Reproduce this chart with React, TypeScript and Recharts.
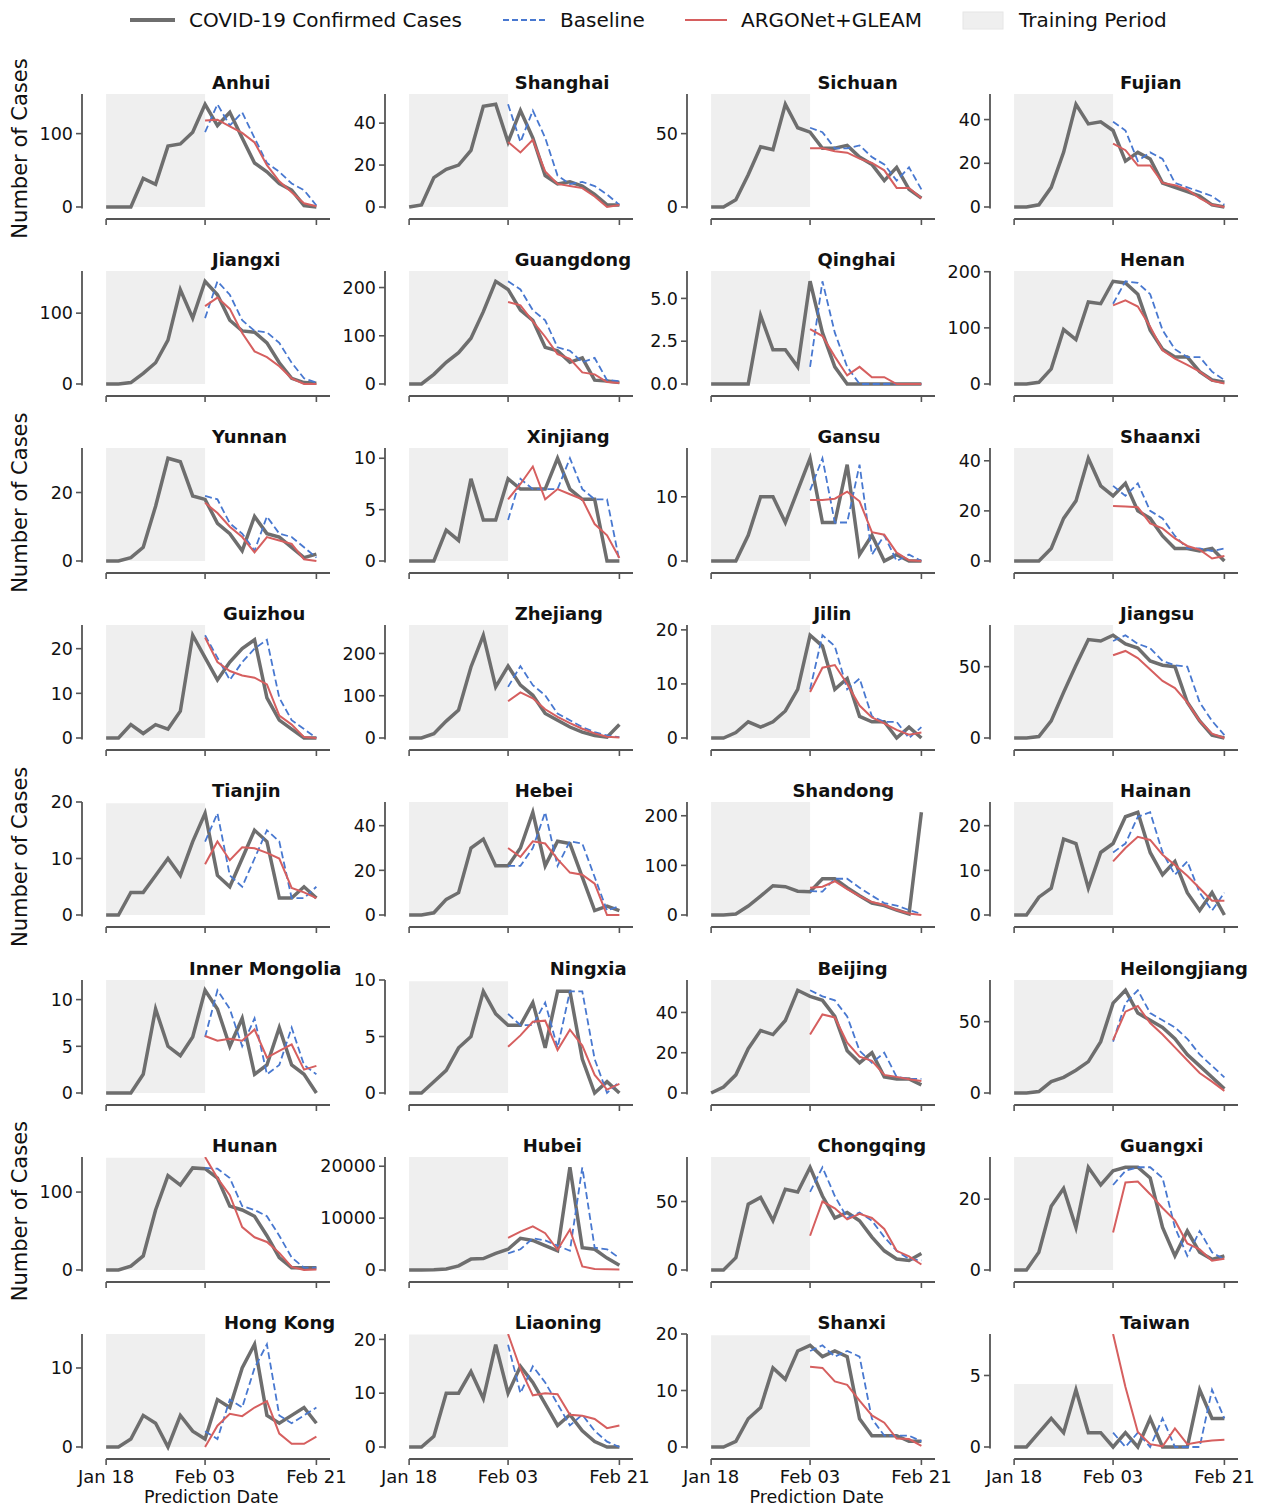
import React from 'react';
import { ComposedChart, Line, XAxis, YAxis, ReferenceArea, ReferenceLine } from 'recharts';

const FONT = '"DejaVu Sans", Verdana, sans-serif';

// x values: days since Jan 18 (observations every 2 days)
const DAYS = [0, 2, 4, 6, 8, 10, 12, 14, 16, 18, 20, 22, 24, 26, 28, 30, 32, 34];
const TICK_DAYS = [0, 16, 34];
const TICK_LABELS = ['Jan 18', 'Feb 03', 'Feb 21'];
const TRAIN_START = 0;
const TRAIN_END = 16;
const PRED_START_INDEX = 8;

const ANHUI_CASES = [0, 0, 0, 39, 31, 83, 86, 102, 140, 111, 129, 94, 60, 48, 32, 23, 2, 0];
const ANHUI_BASE = [102, 140, 111, 129, 94, 60, 48, 32, 23, 2];
const ANHUI_ARGO = [118, 119, 110, 101, 88, 57, 35, 20, 5, 1];

const SHANGHAI_CASES = [0, 1, 14, 18, 20, 27, 48, 49, 31, 46, 33, 15, 11, 12, 10, 6, 1, 1];
const SHANGHAI_BASE = [49, 31, 46, 33, 15, 11, 12, 10, 6, 1];
const SHANGHAI_ARGO = [31, 26, 32, 17, 11, 10, 9, 5, 0, 1];

const SICHUAN_CASES = [0, 0, 5, 22, 41, 39, 70, 54, 51, 40, 40, 42, 34, 29, 18, 27, 12, 6];
const SICHUAN_BASE = [54, 51, 40, 40, 42, 34, 29, 18, 27, 12];
const SICHUAN_ARGO = [40, 40, 38, 37, 33, 30, 25, 13, 13, 6];

const FUJIAN_CASES = [0, 0, 1, 9, 25, 47, 38, 39, 35, 21, 25, 22, 11, 9, 7, 5, 1, 0];
const FUJIAN_BASE = [39, 35, 21, 25, 22, 11, 9, 7, 5, 1];
const FUJIAN_ARGO = [29, 26, 19, 19, 11, 10, 8, 4, 1, 0];

const JIANGXI_CASES = [0, 0, 2, 15, 30, 62, 133, 93, 145, 126, 90, 75, 73, 58, 30, 8, 2, 1];
const JIANGXI_BASE = [93, 145, 126, 90, 75, 73, 58, 30, 8, 2];
const JIANGXI_ARGO = [110, 122, 106, 72, 46, 38, 25, 8, 0, 0];

const GUANGDONG_CASES = [0, 0, 20, 45, 65, 95, 150, 213, 196, 153, 132, 76, 69, 45, 54, 8, 6, 3];
const GUANGDONG_BASE = [213, 196, 153, 132, 76, 69, 45, 54, 8, 6];
const GUANGDONG_ARGO = [170, 163, 130, 98, 62, 52, 24, 20, 4, 2];

const QINGHAI_CASES = [0, 0, 0, 0, 4, 2, 2, 1, 6, 3, 1, 0, 0, 0, 0, 0, 0, 0];
const QINGHAI_BASE = [1, 6, 3, 1, 0, 0, 0, 0, 0, 0];
const QINGHAI_ARGO = [3.2, 2.8, 1.6, 0.5, 1.0, 0.4, 0.4, 0, 0, 0];

const HENAN_CASES = [0, 0, 3, 27, 97, 79, 146, 143, 183, 180, 160, 96, 62, 48, 48, 22, 7, 3];
const HENAN_BASE = [143, 183, 180, 160, 96, 62, 48, 48, 22, 7];
const HENAN_ARGO = [140, 149, 138, 102, 60, 45, 34, 22, 6, 1];

const YUNNAN_CASES = [0, 0, 1, 4, 16, 30, 29, 19, 18, 11, 8, 3, 13, 8, 7, 4, 1, 2];
const YUNNAN_BASE = [19, 18, 11, 8, 3, 13, 8, 7, 4, 1];
const YUNNAN_ARGO = [17, 14, 10, 7, 2.5, 7, 6, 5, 0.5, 0];

const XINJIANG_CASES = [0, 0, 0, 3, 2, 8, 4, 4, 8, 7, 7, 7, 10, 7, 6, 6, 0, 0];
const XINJIANG_BASE = [4, 8, 7, 7, 7, 10, 7, 6, 6, 0];
const XINJIANG_ARGO = [6, 7.5, 9.2, 6, 7, 6.5, 6, 3.6, 2.5, 0.3];

const GANSU_CASES = [0, 0, 0, 4, 10, 10, 6, 11, 16, 6, 6, 15, 1, 4, 0, 1, 0, 0];
const GANSU_BASE = [11, 16, 6, 6, 15, 1, 4, 0, 1, 0];
const GANSU_ARGO = [9.5, 9.5, 9.7, 10.8, 9.3, 4.5, 4.1, 1.3, 0.1, 0];

const SHAANXI_CASES = [0, 0, 0, 5, 17, 24, 41, 30, 26, 31, 20, 17, 10, 5, 5, 4, 5, 0];
const SHAANXI_BASE = [30, 26, 31, 20, 17, 10, 5, 5, 4, 5];
const SHAANXI_ARGO = [22, 21.8, 21.5, 15, 13, 9, 6, 4.5, 1, 2];

const GUIZHOU_CASES = [0, 0, 3, 1, 3, 2, 6, 23, 18, 13, 17, 20, 22, 9, 4, 2, 0, 0];
const GUIZHOU_BASE = [23, 18, 13, 17, 20, 22, 9, 4, 2, 0];
const GUIZHOU_ARGO = [22.5, 17, 15, 14, 13.5, 12, 5, 3, 0.2, 0];

const ZHEJIANG_CASES = [0, 0, 10, 40, 66, 168, 243, 121, 170, 125, 101, 58, 42, 26, 14, 6, 2, 32];
const ZHEJIANG_BASE = [121, 170, 125, 101, 58, 42, 26, 14, 6, 2];
const ZHEJIANG_ARGO = [87, 108, 94, 68, 50, 35, 22, 11, 3, 1];

const JILIN_CASES = [0, 0, 1, 3, 2, 3, 5, 9, 19, 17, 9, 11, 4, 3, 3, 0, 2, 0];
const JILIN_BASE = [9, 19, 17, 9, 11, 4, 3, 3, 0, 2];
const JILIN_ARGO = [8.5, 13, 13.5, 10, 6, 3.8, 2.7, 1.5, 0.6, 1];

const JIANGSU_CASES = [0, 0, 1, 12, 32, 51, 69, 68, 72, 66, 63, 54, 51, 50, 25, 12, 2, 0];
const JIANGSU_BASE = [68, 72, 66, 63, 54, 51, 50, 25, 12, 2];
const JIANGSU_ARGO = [58, 61, 56, 48, 40, 35, 25, 12, 3, 0];

const TIANJIN_CASES = [0, 0, 4, 4, 7, 10, 7, 13, 18, 7, 5, 10, 15, 13, 3, 3, 5, 3];
const TIANJIN_BASE = [13, 18, 7, 5, 10, 15, 13, 3, 3, 5];
const TIANJIN_ARGO = [9, 13, 9.7, 12, 11.8, 11, 10, 4.8, 4, 3];

const HEBEI_CASES = [0, 0, 1, 7, 10, 30, 34, 22, 22, 30, 46, 22, 33, 32, 17, 2, 4, 2];
const HEBEI_BASE = [22, 22, 30, 46, 22, 33, 32, 17, 2, 4];
const HEBEI_ARGO = [30, 26, 33, 32, 25, 19, 18, 14, 0, 0];

const SHANDONG_CASES = [0, 0, 2, 18, 38, 59, 57, 48, 47, 73, 73, 55, 39, 24, 19, 10, 2, 207];
const SHANDONG_BASE = [48, 47, 73, 73, 55, 39, 24, 19, 10, 2];
const SHANDONG_ARGO = [55, 57, 68, 52, 38, 26, 20, 10, 3, 0];

const HAINAN_CASES = [0, 0, 4, 6, 17, 16, 6, 14, 16, 22, 23, 14, 9, 12, 5, 1, 5, 0];
const HAINAN_BASE = [14, 16, 22, 23, 14, 9, 12, 5, 1, 5];
const HAINAN_ARGO = [12, 15, 17.5, 16.8, 13.5, 11.2, 8.8, 6, 3.2, 3.2];

const INNER_MONGOLIA_CASES = [0, 0, 0, 2, 9, 5, 4, 6, 11, 9, 5, 8, 2, 3, 7, 3, 2, 0];
const INNER_MONGOLIA_BASE = [6, 11, 9, 5, 8, 2, 3, 7, 3, 2];
const INNER_MONGOLIA_ARGO = [6.1, 5.6, 5.8, 5.6, 6.8, 3.8, 4.5, 5.2, 2.5, 2.9];

const NINGXIA_CASES = [0, 0, 1, 2, 4, 5, 9, 7, 6, 6, 8, 4, 9, 9, 3, 0, 1, 0];
const NINGXIA_BASE = [7, 6, 6, 8, 4, 9, 9, 3, 0, 1];
const NINGXIA_ARGO = [4.1, 5.1, 6.3, 6.4, 3.8, 5.6, 4.2, 1.6, 0.3, 0.8];

const BEIJING_CASES = [0, 3, 9, 22, 31, 29, 36, 51, 48, 46, 38, 21, 15, 20, 8, 7, 7, 4];
const BEIJING_BASE = [51, 48, 46, 38, 21, 15, 20, 8, 7, 7];
const BEIJING_ARGO = [29, 39, 37.5, 25, 18, 16, 9, 8, 6.8, 6];

const HEILONGJIANG_CASES = [0, 0, 1, 8, 11, 16, 22, 36, 63, 72, 56, 51, 46, 38, 27, 19, 11, 3];
const HEILONGJIANG_BASE = [36, 63, 72, 56, 51, 46, 38, 27, 19, 11];
const HEILONGJIANG_ARGO = [37, 57, 61, 49, 41, 32, 23, 14, 8, 1.5];

const HUNAN_CASES = [0, 0, 5, 18, 77, 121, 109, 131, 130, 118, 82, 77, 69, 44, 16, 3, 3, 3];
const HUNAN_BASE = [131, 130, 118, 82, 77, 69, 44, 16, 3, 3];
const HUNAN_ARGO = [145, 118, 96, 55, 42, 36, 22, 4, 0, 0.5];

const HUBEI_CASES = [0, 0, 50, 200, 800, 2100, 2200, 3200, 4000, 6100, 5700, 4700, 3700, 19800, 4300, 4000, 2300, 900];
const HUBEI_BASE = [3200, 4000, 6100, 5700, 4700, 3700, 19800, 4300, 4000, 2300];
const HUBEI_ARGO = [6200, 7400, 8400, 7100, 3900, 7800, 700, 200, 150, 100];

const CHONGQING_CASES = [0, 0, 9, 48, 53, 36, 59, 57, 75, 54, 38, 42, 36, 24, 14, 8, 7, 12];
const CHONGQING_BASE = [57, 75, 54, 38, 42, 36, 24, 14, 8, 7];
const CHONGQING_ARGO = [25, 50, 45, 37, 41, 38, 30, 14, 10, 4];

const GUANGXI_CASES = [0, 0, 5, 18, 23, 12, 29, 24, 28, 29, 29, 26, 12, 4, 11, 5, 3, 4];
const GUANGXI_BASE = [24, 28, 29, 29, 26, 12, 4, 11, 5, 3];
const GUANGXI_ARGO = [10.6, 24.7, 25, 21.4, 17.5, 14, 7.5, 5.8, 2.6, 3.2];

const HONG_KONG_CASES = [0, 0, 1, 4, 3, 0, 4, 2, 1, 6, 5, 10, 13, 4, 3, 4, 5, 3];
const HONG_KONG_BASE = [2, 1, 6, 5, 10, 13, 4, 3, 4, 5];
const HONG_KONG_ARGO = [0, 2.7, 4.2, 3.9, 5, 5.8, 1.7, 0.4, 0.4, 1.3];

const LIAONING_CASES = [0, 0, 2, 10, 10, 14, 9, 19, 10, 15, 12, 8, 4, 6, 3, 1, 0, 0];
const LIAONING_BASE = [19, 10, 15, 12, 8, 4, 6, 3, 1, 0];
const LIAONING_ARGO = [21, 14.5, 9.6, 10, 9.8, 6, 5.8, 5.2, 3.5, 4];

const SHANXI_CASES = [0, 0, 1, 5, 7, 14, 12, 17, 18, 16, 17, 16, 5, 2, 2, 2, 1, 1];
const SHANXI_BASE = [17, 18, 16, 17, 16, 5, 2, 2, 2, 1];
const SHANXI_ARGO = [14.2, 14, 11.6, 11, 8.2, 5.6, 4.3, 1.5, 1.4, 0.2];

const TAIWAN_CASES = [0, 0, 1, 2, 1, 4, 1, 1, 0, 1, 0, 2, 0, 0, 0, 4, 2, 2];
const TAIWAN_BASE = [1, 0, 1, 0, 2, 0, 0, 0, 4, 2];
const TAIWAN_ARGO = [7.9, 4.2, 1.05, 0.2, 0.05, 1.3, 0.2, 0.35, 0.45, 0.5];

type Panel = { name: string; cases: number[]; base: number[]; argo: number[]; ticks: number[]; decimals?: number };

const PANELS: Panel[] = [
  { name: 'Anhui', cases: ANHUI_CASES, base: ANHUI_BASE, argo: ANHUI_ARGO, ticks: [0, 100] },
  { name: 'Shanghai', cases: SHANGHAI_CASES, base: SHANGHAI_BASE, argo: SHANGHAI_ARGO, ticks: [0, 20, 40] },
  { name: 'Sichuan', cases: SICHUAN_CASES, base: SICHUAN_BASE, argo: SICHUAN_ARGO, ticks: [0, 50] },
  { name: 'Fujian', cases: FUJIAN_CASES, base: FUJIAN_BASE, argo: FUJIAN_ARGO, ticks: [0, 20, 40] },
  { name: 'Jiangxi', cases: JIANGXI_CASES, base: JIANGXI_BASE, argo: JIANGXI_ARGO, ticks: [0, 100] },
  { name: 'Guangdong', cases: GUANGDONG_CASES, base: GUANGDONG_BASE, argo: GUANGDONG_ARGO, ticks: [0, 100, 200] },
  { name: 'Qinghai', cases: QINGHAI_CASES, base: QINGHAI_BASE, argo: QINGHAI_ARGO, ticks: [0, 2.5, 5], decimals: 1 },
  { name: 'Henan', cases: HENAN_CASES, base: HENAN_BASE, argo: HENAN_ARGO, ticks: [0, 100, 200] },
  { name: 'Yunnan', cases: YUNNAN_CASES, base: YUNNAN_BASE, argo: YUNNAN_ARGO, ticks: [0, 20] },
  { name: 'Xinjiang', cases: XINJIANG_CASES, base: XINJIANG_BASE, argo: XINJIANG_ARGO, ticks: [0, 5, 10] },
  { name: 'Gansu', cases: GANSU_CASES, base: GANSU_BASE, argo: GANSU_ARGO, ticks: [0, 10] },
  { name: 'Shaanxi', cases: SHAANXI_CASES, base: SHAANXI_BASE, argo: SHAANXI_ARGO, ticks: [0, 20, 40] },
  { name: 'Guizhou', cases: GUIZHOU_CASES, base: GUIZHOU_BASE, argo: GUIZHOU_ARGO, ticks: [0, 10, 20] },
  { name: 'Zhejiang', cases: ZHEJIANG_CASES, base: ZHEJIANG_BASE, argo: ZHEJIANG_ARGO, ticks: [0, 100, 200] },
  { name: 'Jilin', cases: JILIN_CASES, base: JILIN_BASE, argo: JILIN_ARGO, ticks: [0, 10, 20] },
  { name: 'Jiangsu', cases: JIANGSU_CASES, base: JIANGSU_BASE, argo: JIANGSU_ARGO, ticks: [0, 50] },
  { name: 'Tianjin', cases: TIANJIN_CASES, base: TIANJIN_BASE, argo: TIANJIN_ARGO, ticks: [0, 10, 20] },
  { name: 'Hebei', cases: HEBEI_CASES, base: HEBEI_BASE, argo: HEBEI_ARGO, ticks: [0, 20, 40] },
  { name: 'Shandong', cases: SHANDONG_CASES, base: SHANDONG_BASE, argo: SHANDONG_ARGO, ticks: [0, 100, 200] },
  { name: 'Hainan', cases: HAINAN_CASES, base: HAINAN_BASE, argo: HAINAN_ARGO, ticks: [0, 10, 20] },
  { name: 'Inner Mongolia', cases: INNER_MONGOLIA_CASES, base: INNER_MONGOLIA_BASE, argo: INNER_MONGOLIA_ARGO, ticks: [0, 5, 10] },
  { name: 'Ningxia', cases: NINGXIA_CASES, base: NINGXIA_BASE, argo: NINGXIA_ARGO, ticks: [0, 5, 10] },
  { name: 'Beijing', cases: BEIJING_CASES, base: BEIJING_BASE, argo: BEIJING_ARGO, ticks: [0, 20, 40] },
  { name: 'Heilongjiang', cases: HEILONGJIANG_CASES, base: HEILONGJIANG_BASE, argo: HEILONGJIANG_ARGO, ticks: [0, 50] },
  { name: 'Hunan', cases: HUNAN_CASES, base: HUNAN_BASE, argo: HUNAN_ARGO, ticks: [0, 100] },
  { name: 'Hubei', cases: HUBEI_CASES, base: HUBEI_BASE, argo: HUBEI_ARGO, ticks: [0, 10000, 20000] },
  { name: 'Chongqing', cases: CHONGQING_CASES, base: CHONGQING_BASE, argo: CHONGQING_ARGO, ticks: [0, 50] },
  { name: 'Guangxi', cases: GUANGXI_CASES, base: GUANGXI_BASE, argo: GUANGXI_ARGO, ticks: [0, 20] },
  { name: 'Hong Kong', cases: HONG_KONG_CASES, base: HONG_KONG_BASE, argo: HONG_KONG_ARGO, ticks: [0, 10] },
  { name: 'Liaoning', cases: LIAONING_CASES, base: LIAONING_BASE, argo: LIAONING_ARGO, ticks: [0, 10, 20] },
  { name: 'Shanxi', cases: SHANXI_CASES, base: SHANXI_BASE, argo: SHANXI_ARGO, ticks: [0, 10, 20] },
  { name: 'Taiwan', cases: TAIWAN_CASES, base: TAIWAN_BASE, argo: TAIWAN_ARGO, ticks: [0, 5] },
];

// ---- layout / style (not data) ----
const COLS = 4;
const ROWS = 8;
const COL_X0 = 82;
const COL_STEP = 302.7;
const ROW_Y0 = 94;
const ROW_STEP = 177.1;
const PLOT_W = 248;
const PLOT_H = 125;
const ZERO_FROM_TOP = 113;
const YAXIS_W = 80;
const TOP_M = 16;
const RIGHT_M = 40;
const XAXIS_H = 40;
const X_DOMAIN: [number, number] = [-3.9, 36.2];
const TITLE_OFFSET = 130;
const TITLE_SHIFT: Record<string, number> = {
  Guizhou: 11, 'Hong Kong': 12, 'Inner Mongolia': -23, Xinjiang: 12, Hubei: 8, Ningxia: 35, Shandong: -25, Jilin: -4,
};

const GRAY = '#6e6e6e';
const BLUE = '#4878d0';
const RED = '#d65f5f';
const SHADE = '#efefef';
const SPINE = '#555555';
const TEXT = '#111111';

function PanelChart({ p, idx }: { p: Panel; idx: number }) {
  const col = idx % COLS;
  const row = Math.floor(idx / COLS);
  const spineX = COL_X0 + col * COL_STEP;
  const spineTop = ROW_Y0 + row * ROW_STEP;
  const shadeTop = 1.1 * Math.max(...p.cases);
  let yHi = Math.max(shadeTop, ...p.base, ...p.argo);
  const topTick = p.ticks[p.ticks.length - 1];
  if (topTick > yHi && topTick <= yHi * 1.03) yHi = topTick;
  const perUnit = ZERO_FROM_TOP / yHi;
  const yLo = -(PLOT_H - ZERO_FROM_TOP) / perUnit;
  const spineBottom = -1.5 / perUnit;
  const isBottom = row === ROWS - 1;
  const data = DAYS.map((d, i) => ({
    day: d,
    cases: p.cases[i],
    base: i >= PRED_START_INDEX ? p.base[i - PRED_START_INDEX] : null,
    argo: i >= PRED_START_INDEX ? p.argo[i - PRED_START_INDEX] : null,
  }));
  const fmtY = (v: number) => (p.decimals ? v.toFixed(p.decimals) : String(v));
  const fmtX = (v: number) => (isBottom ? TICK_LABELS[TICK_DAYS.indexOf(v)] ?? '' : '');
  return (
    <div style={{ position: 'absolute', left: spineX - YAXIS_W, top: spineTop - TOP_M }}>
      <ComposedChart
        width={YAXIS_W + PLOT_W + RIGHT_M}
        height={TOP_M + PLOT_H + XAXIS_H}
        data={data}
        margin={{ top: TOP_M, right: RIGHT_M, bottom: 0, left: 0 }}
      >
        <ReferenceArea x1={TRAIN_START} x2={TRAIN_END} y1={0} y2={shadeTop} fill={SHADE} fillOpacity={1} stroke="none" ifOverflow="visible" />
        <XAxis
          type="number"
          dataKey="day"
          domain={X_DOMAIN}
          allowDataOverflow
          ticks={TICK_DAYS}
          interval={0}
          axisLine={false}
          tickLine={{ stroke: SPINE, strokeWidth: 1.6 }}
          tickSize={6}
          tickMargin={5}
          height={XAXIS_H}
          tick={{ fill: TEXT, fontSize: 18, fontFamily: FONT }}
          tickFormatter={fmtX}
        />
        <YAxis
          type="number"
          domain={[yLo, yHi]}
          allowDataOverflow
          ticks={p.ticks}
          interval={0}
          axisLine={false}
          tickLine={{ stroke: SPINE, strokeWidth: 1.6 }}
          tickSize={6}
          tickMargin={3}
          width={YAXIS_W}
          tick={{ fill: TEXT, fontSize: 17.5, fontFamily: FONT }}
          tickFormatter={fmtY}
        />
        <ReferenceLine
          segment={[{ x: X_DOMAIN[0], y: yHi }, { x: X_DOMAIN[0], y: spineBottom }]}
          stroke={SPINE}
          strokeWidth={1.8}
          ifOverflow="visible"
        />
        <ReferenceLine
          segment={[{ x: TRAIN_START, y: yLo }, { x: X_DOMAIN[1], y: yLo }]}
          stroke={SPINE}
          strokeWidth={2}
          ifOverflow="visible"
        />
        <Line type="linear" dataKey="cases" stroke={GRAY} strokeWidth={3.5} dot={false} activeDot={false} isAnimationActive={false} />
        <Line type="linear" dataKey="base" stroke={BLUE} strokeWidth={1.8} strokeDasharray="7 3.5" dot={false} activeDot={false} isAnimationActive={false} />
        <Line type="linear" dataKey="argo" stroke={RED} strokeWidth={2} dot={false} activeDot={false} isAnimationActive={false} />
      </ComposedChart>
    </div>
  );
}

function Overlay() {
  const titles = PANELS.map((p, idx) => {
    const col = idx % COLS;
    const row = Math.floor(idx / COLS);
    const x = COL_X0 + col * COL_STEP + TITLE_OFFSET + (TITLE_SHIFT[p.name] ?? 0);
    const y = ROW_Y0 + row * ROW_STEP - 5;
    return (
      <text key={p.name} x={x} y={y} fontSize={18} fontWeight="bold" fontFamily={FONT} fill={TEXT}>
        {p.name}
      </text>
    );
  });
  const yLabels = [0, 2, 4, 6].map((row) => {
    const cy = ROW_Y0 + row * ROW_STEP + ZERO_FROM_TOP / 2 - 2;
    return (
      <text key={row} transform={`translate(20, ${cy}) rotate(-90)`} textAnchor="middle" dominantBaseline="central" fontSize={21} fontFamily={FONT} fill={TEXT}>
        Number of Cases
      </text>
    );
  });
  const xLabels = [0, 2].map((col) => {
    const cx = COL_X0 + col * COL_STEP + (0 - X_DOMAIN[0] + 17) * (PLOT_W / (X_DOMAIN[1] - X_DOMAIN[0]));
    return (
      <text key={col} x={cx} y={1503} textAnchor="middle" fontSize={17.5} fontFamily={FONT} fill={TEXT}>
        Prediction Date
      </text>
    );
  });
  return (
    <svg width={1263} height={1508} style={{ position: 'absolute', left: 0, top: 0 }}>
      {titles}
      {yLabels}
      {xLabels}
      <g fontFamily={FONT} fontSize={20} fill={TEXT}>
        <line x1={130} y1={20} x2={175} y2={20} stroke={GRAY} strokeWidth={4} />
        <text x={189} y={27}>COVID-19 Confirmed Cases</text>
        <line x1={503} y1={20} x2={545} y2={20} stroke={BLUE} strokeWidth={2} strokeDasharray="6 3" />
        <text x={560} y={27}>Baseline</text>
        <line x1={685} y1={20} x2={727} y2={20} stroke={RED} strokeWidth={2} />
        <text x={741} y={27}>ARGONet+GLEAM</text>
        <rect x={963} y={12} width={40} height={17} fill={SHADE} stroke="#e6e6e6" />
        <text x={1019} y={27}>Training Period</text>
      </g>
    </svg>
  );
}

export default function App() {
  return (
    <div style={{ position: 'absolute', left: 0, top: 0, width: 1263, height: 1508, background: '#ffffff', overflow: 'hidden' }}>
      <Overlay />
      {PANELS.map((p, idx) => (
        <PanelChart key={p.name} p={p} idx={idx} />
      ))}
    </div>
  );
}
